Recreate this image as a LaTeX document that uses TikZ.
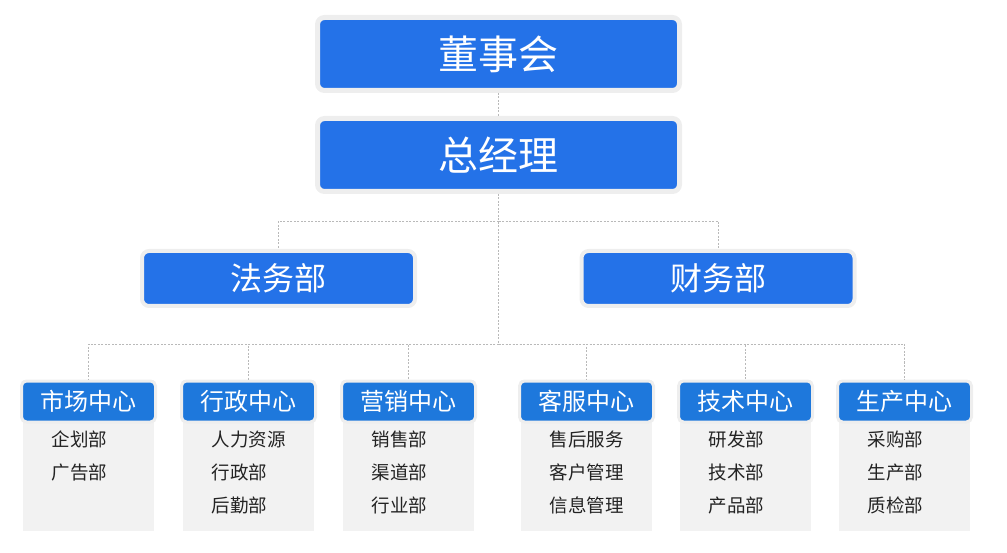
\documentclass[tikz,border=0pt]{standalone}
\usepackage{fontspec}
\newfontfamily\cjk{Noto Sans CJK SC}
\usepackage{tikz}
\usetikzlibrary{positioning}
\usepackage{xcolor}
\definecolor{boxblue}{RGB}{36,114,232}
\definecolor{headblue}{RGB}{30,120,220}
\definecolor{rimgray}{RGB}{238,238,238}
\definecolor{panelgray}{RGB}{242,242,242}
\definecolor{linkgray}{RGB}{185,185,185}
\definecolor{itemtext}{RGB}{35,35,35}
\tikzset{
  topbox/.style={rectangle,rounded corners=7pt,fill=boxblue,draw=rimgray,
                 line width=5pt,text=white,minimum width=362pt,
                 minimum height=73pt,inner sep=0pt,
                 font=\cjk\fontsize{40}{48}\selectfont},
  deptbox/.style={topbox,minimum width=273pt,minimum height=55pt,
                  line width=4pt,font=\cjk\fontsize{32}{38}\selectfont},
  headbox/.style={rectangle,rounded corners=5pt,fill=headblue,draw=rimgray,
                  line width=3pt,text=white,minimum width=134pt,
                  minimum height=41pt,inner sep=0pt,
                  font=\cjk\fontsize{24}{29}\selectfont},
  panel/.style={rectangle,fill=panelgray,minimum width=131pt,
                minimum height=151pt,inner sep=0pt,anchor=north},
  item/.style={anchor=base west,text=itemtext,inner sep=0pt,
               font=\cjk\fontsize{18.5}{22}\selectfont},
  link/.style={linkgray,line width=0.8pt,dash pattern=on 2pt off 1.5pt},
}

\begin{document}
\begin{tikzpicture}[x=1pt,y=-1pt]
    \useasboundingbox (0,0) rectangle (1007,553);
    % board and manager
    \node[topbox] (dsh) at (498.5,54) {董事会};
    \node[topbox] (zjl) at (498.5,155) {总经理};
    % staff departments
    \node[deptbox] (fw) at (278.5,278.5) {法务部};
    \node[deptbox] (cw) at (718,278.5) {财务部};
    \coordinate (up) at (498.5,221);
    \coordinate (down) at (498.5,344);
    \draw[link] (dsh.south) -- (zjl.north);
    \draw[link] (zjl.south) -- (down);
    \draw[link] (up) -| (fw.north);
    \draw[link] (up) -| (cw.north);
    % centres with their units
    \foreach \cx/\ttl/\lst [count=\c] in {
        88.5/市场中心/{企划部,广告部},
        248.5/行政中心/{人力资源,行政部,后勤部},
        408.5/营销中心/{销售部,渠道部,行业部},
        586.5/客服中心/{售后服务,客户管理,信息管理},
        745.5/技术中心/{研发部,技术部,产品部},
        904.5/生产中心/{采购部,生产部,质检部}}{
      \node[panel] (p\c) at (\cx,380) {};
      \node[headbox] (h\c) at (\cx,401.5) {\ttl};
      \foreach \it [count=\k] in \lst
        \node[item] (i\c-\k) at ({\cx-37},{446+33*(\k-1)}) {\it};
      \draw[link] (down) -| (h\c.north);
    }
  \end{tikzpicture}
\end{document}
